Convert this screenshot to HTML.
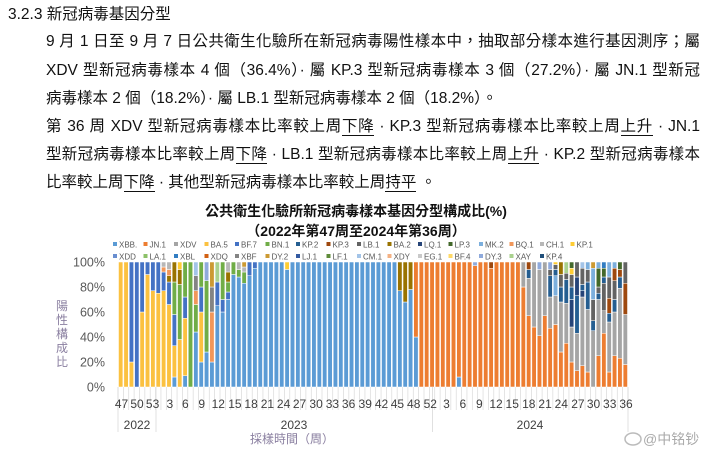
<!DOCTYPE html>
<html><head><meta charset="utf-8">
<style>
html,body{margin:0;padding:0;background:#fff;}
body{width:712px;height:460px;position:relative;overflow:hidden;font-family:"Liberation Sans","Noto Sans CJK TC",sans-serif;color:#111;}
.t{position:absolute;font-size:15.5px;white-space:nowrap;line-height:20px;}
.j{text-align:justify;text-align-last:justify;white-space:normal;overflow:hidden;height:20px;}
u{text-decoration:none;border-bottom:1px solid #111;}
svg{position:absolute;left:0;top:0;}
</style></head><body>
<div class="t" style="left:8px;top:5px;">3.2.3 新冠病毒基因分型</div>
<div class="t j" style="left:46px;top:32px;width:654px;">9 月 1 日至 9 月 7 日公共衛生化驗所在新冠病毒陽性樣本中，抽取部分樣本進行基因測序；屬</div>
<div class="t j" style="left:46px;top:61px;width:654px;">XDV 型新冠病毒樣本 4 個（36.4%）· 屬 KP.3 型新冠病毒樣本 3 個（27.2%）· 屬 JN.1 型新冠</div>
<div class="t" style="left:46px;top:89px;">病毒樣本 2 個（18.2%）· 屬 LB.1 型新冠病毒樣本 2 個（18.2%）。</div>
<div class="t j" style="left:46px;top:117px;width:654px;">第 36 周 XDV 型新冠病毒樣本比率較上周<u>下降</u> · KP.3 型新冠病毒樣本比率較上周<u>上升</u> · JN.1</div>
<div class="t j" style="left:46px;top:145px;width:654px;">型新冠病毒樣本比率較上周<u>下降</u> · LB.1 型新冠病毒樣本比率較上周<u>上升</u> · KP.2 型新冠病毒樣本</div>
<div class="t" style="left:46px;top:173px;">比率較上周<u>下降</u> · 其他型新冠病毒樣本比率較上周<u>持平</u> 。</div>
<svg id="c" width="712" height="460" xmlns="http://www.w3.org/2000/svg" font-family="Liberation Sans, Noto Sans CJK TC, sans-serif"></svg>
<script>
var C={XBB:'#5b9bd5',JN1:'#ed7d31',XDV:'#a5a5a5',BA5:'#fbc140',BF7:'#4472c4',BN1:'#70ad47',KP2:'#255e91',KP3:'#9e480e',LB1:'#636363',BA2:'#997300',LQ1:'#264478',LP3:'#43682b',MK2:'#7cafdd',BQ1:'#f1975a',CH1:'#b7b7b7',KP1:'#ffcd33',XDD:'#698ed0',LA1:'#8cc168',XBL:'#327dc2',XDQ:'#d26012',XBF:'#848484',DY2:'#cc9a33',LJ1:'#335aa1',LF1:'#5f8c3a',CM1:'#a3c4e8',XDY:'#f4b183',EG1:'#c9c9c9',BF4:'#ffd966',DY3:'#8faadc',XAY:'#a9d18e',KP4:'#1f4e79'};
var D=[];
var early=[
[['BA5',100]],[['BA5',100]],[['BA5',20],['BF7',80]],[['BF7',100]],[['BA5',60],['BF7',40]],
[['BA5',90],['BF7',10]],[['BA5',77],['BF7',23]],[['BA5',75],['BF7',25]],[['BA5',77],['BF7',15],['BQ1',4],['CH1',4]],
[['BA5',66],['BF7',18],['BA2',5],['BQ1',5],['CH1',6]],
[['XBB',8],['BA5',25],['BF7',25],['BN1',26],['BA2',16]],
[['BA5',38],['BN1',44],['BA2',12],['KP1',6]],
[['XBB',9],['BA5',46],['BF7',17],['BN1',28]],
[['BN1',100]],
[['XBB',44],['BN1',22],['BQ1',11],['XBF',12],['CM1',11]],
[['XBB',20],['BA5',40],['BF7',20],['BN1',20]],
[['XBB',28],['BN1',57],['DY3',15]],
[['XBB',20],['BQ1',40],['XBF',20],['DY2',20]],
[['XBB',65],['BF7',19],['XAY',16]],
[['XBB',60],['BF7',10],['BN1',30]],
[['XBB',70],['BF7',6],['BN1',8],['BA2',8],['CH1',8]],
[['XBB',90],['BN1',10]],
[['XBB',88],['BN1',6],['CH1',6]],
[['XBB',83],['BN1',9],['CH1',4],['DY2',4]],
[['XBB',89],['BF7',11]],
[['XBB',95],['BF7',5]]
];
for(var i=0;i<95;i++)D[i]=[['XBB',100]];
for(i=0;i<early.length;i++)D[i]=early[i];
D[31]=[['XBB',94],['KP1',6]];
D[52]=[['XBB',77],['BA2',23]];D[53]=[['XBB',68],['BA2',32]];D[54]=[['XBB',78],['BA2',22]];
D[55]=[['XBB',40],['JN1',60]];
for(i=56;i<75;i++)D[i]=[['JN1',100]];
D[63]=[['XBB',8],['JN1',92]];D[66]=[['JN1',97],['DY3',3]];D[69]=[['JN1',95],['KP3',5]];
var late=[
[['JN1',80],['XDV',20]],
[['JN1',57],['XDV',30],['KP2',7],['KP3',6]],
[['JN1',48],['XDV',52]],
[['JN1',41],['XDV',53],['DY3',6]],
[['JN1',57],['XDV',43]],
[['JN1',47],['XDV',25],['KP2',17],['LB1',5],['DY3',6]],
[['JN1',50],['XDV',23],['MK2',16],['KP2',5],['LB1',4],['KP1',2]],
[['JN1',28],['XDV',40],['KP2',12],['LB1',10],['BA2',10]],
[['JN1',35],['XDV',32],['KP2',19],['LB1',5],['XAY',9]],
[['JN1',20],['XDV',28],['LQ1',22],['KP2',10],['LB1',10],['KP1',5],['LP3',5]],
[['JN1',13],['XDV',30],['KP2',30],['LQ1',15],['LB1',12]],
[['JN1',17],['XDV',55],['LQ1',5],['KP2',5],['LB1',13],['CM1',5]],
[['JN1',12],['XDV',50],['KP2',22],['LB1',10],['MK2',6]],
[['XDV',45],['KP2',8],['LB1',17],['MK2',25],['DY2',5]],
[['JN1',25],['XDV',45],['KP2',5],['LB1',5],['LP3',15],['MK2',5]],
[['JN1',43],['XDV',18],['LB1',22],['KP2',5],['LP3',7],['XBL',5]],
[['JN1',12],['XDV',40],['KP2',7],['KP3',12],['LB1',17],['MK2',12]],
[['JN1',25],['XDV',35],['KP2',10],['LB1',15],['KP3',10],['MK2',5]],
[['JN1',23],['XDV',56],['KP2',9],['KP3',6],['LP3',6]],
[['JN1',18],['XDV',40],['KP3',25],['LB1',17]]
];
for(i=0;i<20;i++)D[75+i]=late[i];
var s='';
var x0=118,x1=628,y0=387,H=125,N=95,w=(x1-x0)/N;
s+='<text x="356" y="216" text-anchor="middle" font-size="14" font-weight="bold" fill="#111">公共衛生化驗所新冠病毒樣本基因分型構成比(%)</text>';
s+='<text x="356" y="236" text-anchor="middle" font-size="14" font-weight="bold" fill="#111">（2022年第47周至2024年第36周）</text>';
var L1=['XBB.','JN.1','XDV','BA.5','BF.7','BN.1','KP.2','KP.3','LB.1','BA.2','LQ.1','LP.3','MK.2','BQ.1','CH.1','KP.1'];
var K1=['XBB','JN1','XDV','BA5','BF7','BN1','KP2','KP3','LB1','BA2','LQ1','LP3','MK2','BQ1','CH1','KP1'];
var L2=['XDD','LA.1','XBL','XDQ','XBF','DY.2','LJ.1','LF.1','CM.1','XDY','EG.1','BF.4','DY.3','XAY','KP.4'];
var K2=['XDD','LA1','XBL','XDQ','XBF','DY2','LJ1','LF1','CM1','XDY','EG1','BF4','DY3','XAY','KP4'];
function leg(L,K,y){for(var j=0;j<L.length;j++){var lx=113+j*30.5;s+='<rect x="'+lx+'" y="'+(y-3)+'" width="4" height="4" fill="'+C[K[j]]+'"/><text x="'+(lx+6)+'" y="'+(y+2.5)+'" font-size="8" fill="#595959">'+L[j]+'</text>';}}
leg(L1,K1,245);leg(L2,K2,257);
for(i=0;i<N;i++){var bx=x0+i*w+0.5,acc=0;for(var k=0;k<D[i].length;k++){var seg=D[i][k],h=seg[1]/100*H;var y=y0-acc-h;s+='<rect x="'+bx.toFixed(2)+'" y="'+y.toFixed(2)+'" width="'+(w-1).toFixed(2)+'" height="'+h.toFixed(2)+'" fill="'+C[seg[0]]+'" stroke="#fff" stroke-width="0.5"/>';acc+=h;}}
for(i=0;i<=N;i++){var tx=(x0+i*w).toFixed(2);s+='<line x1="'+tx+'" y1="387" x2="'+tx+'" y2="410" stroke="#d9d9d9" stroke-width="0.7"/>';}
[118,156,432.6,628].forEach(function(v){s+='<line x1="'+v+'" y1="387" x2="'+v+'" y2="432" stroke="#d9d9d9" stroke-width="0.8"/>';});
var yl=['100%','80%','60%','40%','20%','0%'];
for(i=0;i<6;i++)s+='<text x="105" y="'+(262+i*25+4.5)+'" text-anchor="end" font-size="12.5" fill="#595959">'+yl[i]+'</text>';
var ch='陽性構成比';for(i=0;i<5;i++)s+='<text x="62" y="'+(310+i*14)+'" text-anchor="middle" font-size="12" fill="#8a7fa0">'+ch[i]+'</text>';
var wl=[[65,'47'],[110,'50'],[155,'53'],[205,'3'],[250,'6'],[297,'9'],[345,'12'],[393,'15'],[440,'18'],[487,'21'],[534,'24'],[580,'27'],[628,'30'],[675,'33'],[722,'36'],[770,'39'],[817,'42'],[863,'45'],[910,'48'],[958,'52'],[1005,'3'],[1052,'6'],[1100,'9'],[1148,'12'],[1195,'15'],[1243,'18'],[1290,'21'],[1337,'24'],[1385,'27'],[1430,'30'],[1477,'33'],[1524,'36']];
wl.forEach(function(a){var xx=118+(a[0]-55)*0.3458;s+='<text x="'+xx.toFixed(1)+'" y="408" text-anchor="middle" font-size="12" fill="#404040">'+a[1]+'</text>';});
s+='<text x="137" y="429" text-anchor="middle" font-size="12" fill="#404040">2022</text>';
s+='<text x="294" y="429" text-anchor="middle" font-size="12" fill="#404040">2023</text>';
s+='<text x="530" y="429" text-anchor="middle" font-size="12" fill="#404040">2024</text>';
s+='<text x="292" y="443" text-anchor="middle" font-size="12" fill="#8a7fa0">採樣時間（周）</text>';
s+='<ellipse cx="633" cy="439" rx="8" ry="6" fill="none" stroke="#bbb" stroke-width="1.5"/><text x="643" y="444" font-size="14" fill="#aaa">@中铭钞</text>';
document.getElementById('c').innerHTML=s;
</script>
</body></html>
